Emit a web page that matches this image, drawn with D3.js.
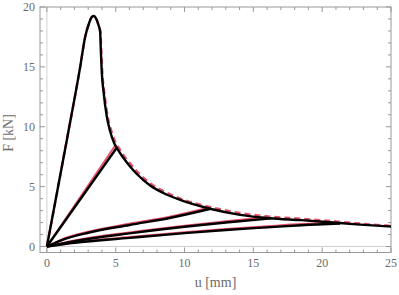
<!DOCTYPE html>
<html>
<head>
  <meta charset="utf-8">
  <title>F-u curves</title>
  <script src="https://d3js.org/d3.v7.min.js"></script>
  <style>
    body { margin: 0; background: #fff; }
  </style>
</head>
<body>
<script>
// black curves (test): envelope + reloading branches, [u mm, F kN]
var envelope = [[0,0],[1.45,8.9],[2.42,15.0],[2.78,17.5],[3.05,18.6],[3.25,19.15],[3.4,19.25],[3.55,19.1],[3.75,18.5],[3.87,17.9],
  [3.92,16.4],[3.99,14.5],[4.11,13.0],[4.36,10.8],[4.6,9.6],[4.9,8.6],[5.1,8.2],[5.5,7.5],[6.0,6.75],[6.5,6.1],[7.5,5.1],
  [8.5,4.45],[9.68,3.89],[11.86,3.15],[14.04,2.64],[16.2,2.36],[18.5,2.2],[20.3,2.05],[22.5,1.85],[25,1.67]];
var branch1 = [[0,0],[5.05,8.2]];
var branch2 = [[0,0],[1,0.5],[3,1.15],[6,1.8],[9,2.4],[11.9,3.15]];
var branch3 = [[0,0],[2,0.45],[6,1.1],[10,1.65],[13,2.0],[16.3,2.35]];
var branch4 = [[0,0],[2,0.3],[6,0.72],[10,1.12],[13,1.38],[16,1.6],[18.5,1.78],[21.3,1.92]];

// red dashed curves (model)
var envelopeRed = [[0,0],[1.45,8.9],[2.42,15.0],[2.78,17.5],[3.05,18.6],[3.25,19.15],[3.4,19.25],[3.55,19.1],[3.75,18.5],[3.9,17.9],
  [3.95,16.4],[4.03,14.5],[4.16,13.0],[4.43,10.8],[4.7,9.6],[5.02,8.6],[5.25,8.2],[5.65,7.5],[6.15,6.8],[6.65,6.15],[7.6,5.2],
  [8.6,4.56],[9.7,4.0],[11.9,3.29],[14.0,2.8],[16.2,2.5],[18.5,2.32],[20.3,2.16],[22.5,1.94],[25,1.72]];
var branch1Red = [[0,0],[5.0,8.5]];
var branch2Red = [[0,0],[1,0.56],[3,1.23],[6,1.9],[9,2.5],[11.8,3.25]];
var branch3Red = [[0,0],[2,0.5],[6,1.18],[10,1.74],[13,2.1],[16.2,2.46]];
var branch4Red = [[0,0],[2,0.34],[6,0.79],[10,1.2],[13,1.46],[16,1.69],[18.5,1.87],[21.3,2.0]];

var xTicks = [0,5,10,15,20,25];
var yTicks = [0,5,10,15,20];

var W = 399, H = 295;
var svg = d3.select("body").append("svg").attr("width", W).attr("height", H);

var x = d3.scaleLinear().domain([-0.5,25]).range([40,391]);
var y = d3.scaleLinear().domain([-0.5,20]).range([252.5,7]);

var grey = "#999";
var textCol = "#6a6a6a";
var font = "Liberation Serif, DejaVu Serif, serif";

// zero lines
svg.append("line").attr("x1",x(0)).attr("x2",x(0)).attr("y1",y.range()[1]).attr("y2",y.range()[0])
  .attr("stroke","#d0d0d0").attr("stroke-width",1);
svg.append("line").attr("x1",x.range()[0]).attr("x2",x.range()[1]).attr("y1",y(0)).attr("y2",y(0))
  .attr("stroke","#d0d0d0").attr("stroke-width",1);

// frame
svg.append("rect").attr("x",40).attr("y",7).attr("width",351).attr("height",245.5)
  .attr("fill","none").attr("stroke",grey).attr("stroke-width",1);

// ticks, every 1 unit, major every 5
var minorX = d3.range(0,26,1), minorY = d3.range(0,21,1);
var tg = svg.append("g").attr("stroke",grey).attr("stroke-width",1);
minorX.forEach(function(v){
  var len = v % 5 === 0 ? 5 : 3;
  tg.append("line").attr("x1",x(v)).attr("x2",x(v)).attr("y1",252.5).attr("y2",252.5-len);
  tg.append("line").attr("x1",x(v)).attr("x2",x(v)).attr("y1",7).attr("y2",7+len);
});
minorY.forEach(function(v){
  var len = v % 5 === 0 ? 5 : 3;
  tg.append("line").attr("x1",40).attr("x2",40+len).attr("y1",y(v)).attr("y2",y(v));
  tg.append("line").attr("x1",391).attr("x2",391-len).attr("y1",y(v)).attr("y2",y(v));
});

svg.selectAll(".xl").data(xTicks).enter().append("text")
  .attr("x",function(d){return x(d);}).attr("y",267)
  .attr("text-anchor","middle").attr("font-family",font).attr("font-size",12).attr("fill",textCol)
  .text(function(d){return d;});
svg.selectAll(".yl").data(yTicks).enter().append("text")
  .attr("x",35).attr("y",function(d){return y(d)+4;})
  .attr("text-anchor","end").attr("font-family",font).attr("font-size",12).attr("fill",textCol)
  .text(function(d){return d;});

svg.append("text").attr("x",215.5).attr("y",287).attr("text-anchor","middle")
  .attr("font-family",font).attr("font-size",14).attr("fill",textCol).text("u [mm]");
svg.append("text").attr("transform","translate(13,133) rotate(-90)").attr("text-anchor","middle")
  .attr("font-family",font).attr("font-size",14).attr("fill",textCol).text("F [kN]");

var line = d3.line().x(function(d){return x(d[0]);}).y(function(d){return y(d[1]);}).curve(d3.curveMonotoneX);

var plot = svg.append("g");
[branch1Red, branch2Red, branch3Red, branch4Red].forEach(function(s){
  plot.append("path").attr("d",line(s)).attr("fill","none")
    .attr("stroke","#e8506a").attr("stroke-width",2);
});
plot.append("path").attr("d",line(envelopeRed)).attr("fill","none")
  .attr("stroke","#e8506a").attr("stroke-width",2.4).attr("stroke-dasharray","6,4");

[branch1, branch2, branch3, branch4, envelope].forEach(function(s){
  plot.append("path").attr("d",line(s)).attr("fill","none")
    .attr("stroke","#000").attr("stroke-width",2.4).attr("stroke-linejoin","round");
});
</script>
</body>
</html>
